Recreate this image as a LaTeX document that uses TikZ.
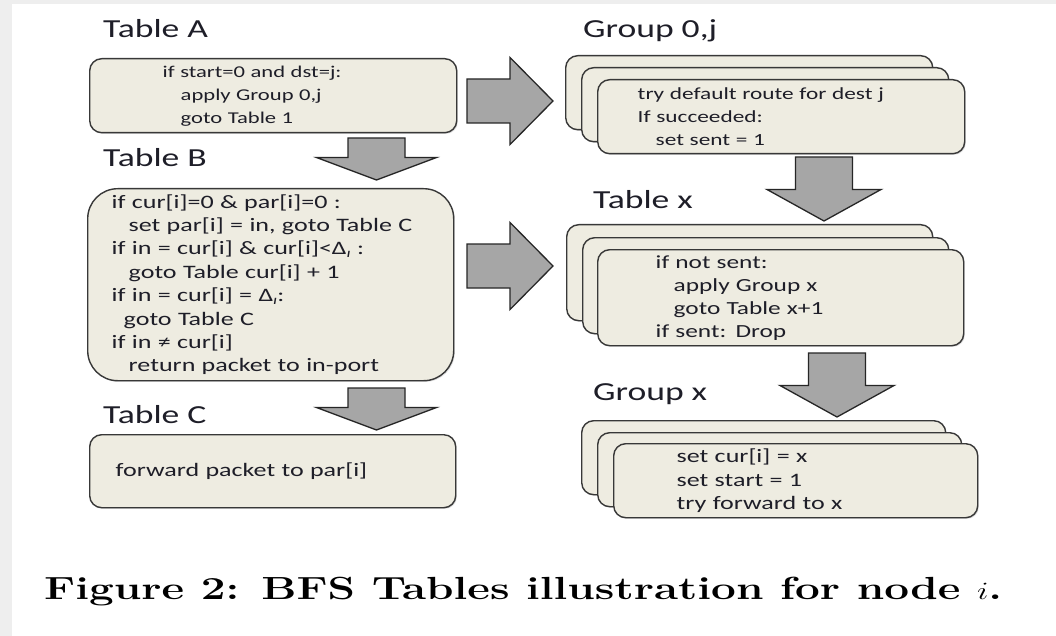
\documentclass[tikz,border=0pt]{standalone}
\usepackage{fontspec}
\usepackage{graphicx}
\usetikzlibrary{shadows}
\newfontfamily\cali[FakeStretch=1.37]{Carlito}
\definecolor{boxfill}{HTML}{EEECE1}
\definecolor{boxline}{HTML}{383838}
\definecolor{arrfill}{HTML}{A6A6A6}
\definecolor{txt}{HTML}{1E1E28}
\definecolor{bgstrip}{HTML}{EEEEEE}
\newcommand\DI{Δ\raisebox{-3pt}{\fontsize{13}{13}\selectfont\itshape ı}}
\tikzset{
  box/.style={draw=boxline, line width=1.4pt, fill=boxfill, rounded corners=12pt,
    anchor=north west, inner ysep=0pt, align=left, text=txt,
    drop shadow={opacity=0.25, shadow xshift=1.2pt, shadow yshift=-1.2pt},
    font=\cali\fontsize{19}{23.4}\selectfont},
  lbl/.style={anchor=base west, inner sep=0pt, text=txt,
    font=\cali\fontsize{26}{30}\selectfont},
  blockarrow/.style={draw=black!85, line width=1.3pt, fill=arrfill, line join=miter},
  pics/rarr/.style={code={\draw[blockarrow] (0,-22) -- (43,-22) -- (43,-43.5) -- (86,0) -- (43,43.5) -- (43,22) -- (0,22) -- cycle;}},
  pics/darrA/.style={code={\draw[blockarrow] (-28.5,0) -- (28.5,0) -- (28.5,19.5) -- (60,19.5) -- (0,42) -- (-60,19.5) -- (-28.5,19.5) -- cycle;}},
  pics/darrB/.style={code={\draw[blockarrow] (-28.5,0) -- (28.5,0) -- (28.5,32.5) -- (57,32.5) -- (0,64) -- (-57,32.5) -- (-28.5,32.5) -- cycle;}}
}
\begin{document}
\begin{tikzpicture}[x=1pt,y=-1pt]
\useasboundingbox (0,0) rectangle (1056,636);
\fill[white] (0,0) rectangle (1056,636);
\fill[bgstrip] (0,0) rectangle (12,636);
\fill[bgstrip] (0,0) rectangle (1056,4);

% left column
\node[lbl] (labA) at (103,38) {Table A};
\node[box, font=\cali\fontsize{16.5}{23}\selectfont, minimum width=367pt, minimum height=74pt, inner xsep=73pt, text width=221pt] (A) at (89,58)
  {if start=0 and dst=j:\\\hspace*{18pt}apply Group 0,j\\\hspace*{18pt}goto Table 1};
\pic at (376.5,138) {darrA};
\node[lbl] (labB) at (103,167) {Table B};
\node[box, rounded corners=30pt, minimum width=366pt, minimum height=192pt, inner xsep=24pt, text width=318pt] (B) at (87,188)
  {if cur[i]=0 \& par[i]=0 :\\
   \hspace*{17pt}set par[i] = in, goto Table C\\
   if in = cur[i] \& cur[i]<\DI{} :\\
   \hspace*{17pt}goto Table cur[i] + 1\\
   if in = cur[i] = \DI:\\
   \hspace*{12pt}goto Table C\\
   if in ≠ cur[i]\\
   \hspace*{17pt}return packet to in-port};
\pic at (376.5,388) {darrA};
\node[lbl] (labC) at (103,423) {Table C};
\node[box, minimum width=366pt, minimum height=73pt, inner xsep=26pt, text width=314pt] (C) at (89,434)
  {forward packet to par[i]};

% right arrows
\pic at (467,101) {rarr};
\pic at (467,266) {rarr};

% right column
\node[lbl] (labG0) at (583,38) {Group 0,j};
\node[box, minimum width=367pt, minimum height=74pt] (G0b) at (565,55) {};
\node[box, minimum width=367pt, minimum height=74pt] (G0m) at (581,67) {};
\node[box, font=\cali\fontsize{17}{23}\selectfont, minimum width=367pt, minimum height=74pt, inner xsep=40pt, text width=287pt] (G0) at (597,79)
  {try default route for dest j\\If succeeded:\\\hspace*{18pt}set sent = 1};
\pic at (824,157) {darrB};
\node[lbl] (labTx) at (593,208) {Table x};
\node[box, minimum width=366pt, minimum height=96pt] (Txb) at (566,224) {};
\node[box, minimum width=366pt, minimum height=96pt] (Txm) at (582,237) {};
\node[box, font=\cali\fontsize{18.5}{23}\selectfont, minimum width=366pt, minimum height=96pt, inner xsep=58pt, text width=250pt] (Tx) at (597,249)
  {if not sent:\\\hspace*{18pt}apply Group x\\\hspace*{18pt}goto Table x+1\\if sent: Drop};
\pic at (837,353) {darrB};
\node[lbl] (labGx) at (593,400) {Group x};
\node[box, minimum width=364pt, minimum height=74pt] (Gxb) at (581,420) {};
\node[box, minimum width=364pt, minimum height=74pt] (Gxm) at (597,432) {};
\node[box, minimum width=364pt, minimum height=74pt, inner xsep=63pt, text width=238pt] (Gx) at (613,443)
  {set cur[i] = x\\set start = 1\\try forward to x};

% caption
\node[anchor=base west, inner sep=0pt] (cap) at (44,599)
  {\resizebox{958pt}{\height}{\fontsize{32}{34}\selectfont\bfseries Figure 2: BFS Tables illustration for node $i$.}};
\end{tikzpicture}
\end{document}
